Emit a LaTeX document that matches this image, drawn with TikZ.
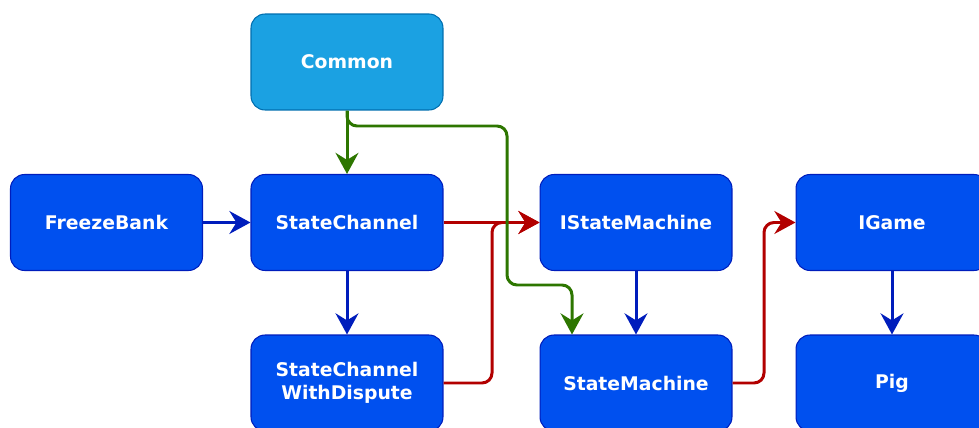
\documentclass[tikz,border=0pt]{standalone}
\usepackage{fontspec}
\setmainfont{DejaVu Sans}
\usetikzlibrary{arrows.meta}

\definecolor{boxfill}{HTML}{0050EF}
\definecolor{boxline}{HTML}{001DBC}
\definecolor{topfill}{HTML}{1BA1E2}
\definecolor{topline}{HTML}{006EAF}
\definecolor{usegreen}{HTML}{2D7600}
\definecolor{usered}{HTML}{B20000}
\definecolor{useblue}{HTML}{001DBC}

\tikzset{
    box/.style={draw=boxline, fill=boxfill, line width=0.6pt, rounded corners=0.28cm,
        minimum width=3.84cm, minimum height=1.92cm, text=white, align=center,
        font=\bfseries\fontsize{10.7}{13}\selectfont},
    topbox/.style={box, draw=topline, fill=topfill},
    link/.style={line width=1.7pt, rounded corners=0.2cm,
        -{Stealth[length=12pt,width=13pt,inset=4pt]}},
}

\begin{document}
\begin{tikzpicture}[x=0.02cm,y=-0.02cm]
    \useasboundingbox (0,0) rectangle (979,428);

    \node[topbox] (common) at (347,62) {Common};
    \node[box] (freeze) at (106.5,222.5) {FreezeBank};
    \node[box] (channel) at (347,222.5) {StateChannel};
    \node[box] (imachine) at (636,222.5) {IStateMachine};
    \node[box] (igame) at (892,222.5) {IGame};
    \node[box] (dispute) at (347,383) {StateChannel\\WithDispute};
    \node[box] (machine) at (636,383) {StateMachine};
    \node[box] (pig) at (892,383) {Pig};

    % blue
    \draw[link, useblue] (freeze) -- (channel);
    \draw[link, useblue] (channel) -- (dispute);
    \draw[link, useblue] (imachine) -- (machine);
    \draw[link, useblue] (igame) -- (pig);

    % red
    \draw[link, usered] (channel) -- (imachine);
    \draw[link, usered] (dispute.east) -- (492,383) -- (492,222.5) -- (imachine.west);
    \draw[link, usered] (machine.east) -- (764,383) -- (764,222.5) -- (igame.west);

    % green
    \draw[link, usegreen] (common) -- (channel);
    \draw[link, usegreen] (common.south) -- (347,126) -- (507,126) -- (507,285)
        -- (572,285) -- ([xshift=-1.28cm]machine.north);
\end{tikzpicture}
\end{document}
